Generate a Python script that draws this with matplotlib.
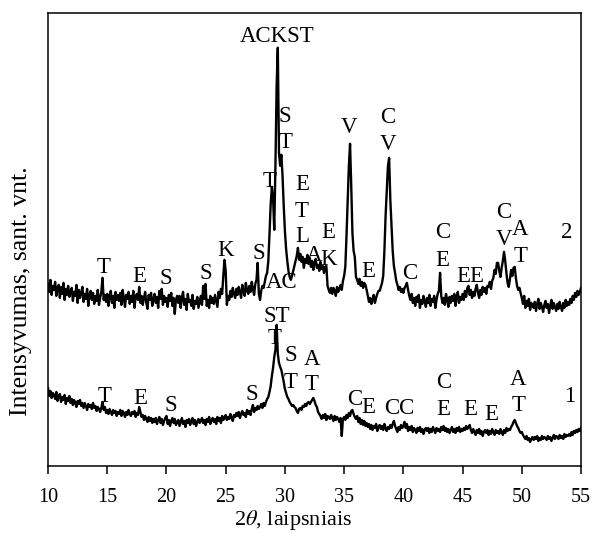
import numpy as np
import matplotlib
matplotlib.use('Agg')
import matplotlib.pyplot as plt

plt.rcParams['font.family'] = ['Liberation Serif', 'DejaVu Serif']
plt.rcParams['mathtext.fontset'] = 'stix'

# 2theta grid of the scan, degrees (step 0.1)
two_theta = np.round(np.linspace(10.0, 55.0, 451), 1)

# sample 2 (upper pattern), intensity in arbitrary units
sample2 = [
    182, 174, 186, 171, 180, 176, 184, 170, 178, 181,
    168, 179, 172, 183, 166, 177, 171, 180, 169, 175,
    178, 165, 174, 170, 181, 163, 176, 168, 173, 179,
    164, 172, 167, 177, 160, 171, 175, 166, 173, 162,
    170, 165, 176, 161, 168, 174, 188, 166, 171, 164,
    172, 160, 169, 175, 163, 170, 158, 174, 166, 171,
    165, 173, 161, 176, 168, 159, 171, 167, 174, 162,
    170, 164, 175, 158, 169, 172, 166, 179, 163, 170,
    161, 168, 174, 163, 157, 171, 166, 173, 160, 167,
    172, 163, 169, 158, 175, 167, 177, 161, 170, 164,
    168, 159, 171, 165, 173, 160, 168, 152, 166, 170,
    163, 170, 158, 168, 174, 161, 167, 156, 172, 164,
    166, 160, 171, 157, 165, 162, 169, 158, 164, 170,
    161, 180, 167, 182, 160, 166, 158, 170, 163, 168,
    162, 171, 165, 159, 174, 168, 177, 172, 190, 206,
    195, 161, 170, 166, 175, 169, 178, 172, 168, 177,
    171, 179, 174, 168, 181, 175, 170, 183, 176, 172,
    180, 174, 184, 177, 171, 182, 186, 203, 172, 166,
    175, 180, 178, 184, 190, 193, 205, 232, 262, 279,
    268, 236, 300, 380, 418, 313, 300, 311, 290, 260,
    235, 217, 205, 195, 189, 186, 190, 195, 200, 205,
    210, 218, 206, 212, 204, 209, 198, 207, 203, 211,
    202, 208, 199, 205, 196, 203, 207, 198, 201, 195,
    204, 197, 200, 193, 199, 200, 180, 176, 173, 178,
    172, 178, 175, 170, 179, 174, 177, 181, 176, 185,
    190, 199, 230, 265, 300, 322, 280, 233, 215, 209,
    189, 186, 182, 187, 180, 184, 178, 183, 181, 176,
    170, 164, 168, 162, 166, 171, 163, 168, 172, 175,
    175, 179, 183, 190, 215, 250, 275, 300, 308, 266,
    240, 215, 200, 193, 185, 181, 176, 179, 174, 177,
    173, 178, 180, 183, 176, 170, 166, 172, 163, 168,
    160, 169, 164, 171, 158, 166, 162, 170, 165, 159,
    168, 163, 171, 160, 167, 164, 170, 158, 166, 172,
    175, 193, 170, 163, 168, 161, 172, 166, 159, 169,
    163, 170, 165, 172, 160, 168, 174, 163, 169, 166,
    172, 166, 175, 169, 178, 180, 171, 176, 168, 174,
    170, 177, 181, 173, 168, 176, 171, 179, 174, 178,
    172, 180, 179, 184, 177, 185, 188, 196, 192, 203,
    203, 195, 189, 198, 205, 214, 205, 193, 183, 179,
    187, 196, 190, 198, 199, 188, 180, 176, 178, 173,
    168, 162, 170, 158, 165, 160, 167, 156, 163, 161,
    158, 164, 155, 162, 167, 157, 163, 159, 154, 161,
    165, 158, 162, 153, 160, 166, 157, 163, 159, 155,
    162, 157, 164, 159, 155, 163, 158, 166, 160, 164,
    161, 167, 163, 170, 166, 173, 169, 175, 171, 174,
    178,
]

# sample 1 (lower pattern)
sample1 = [
    78, 70, 75, 68, 73, 71, 67, 74, 65, 70,
    72, 64, 69, 66, 71, 62, 68, 65, 70, 63,
    67, 61, 66, 63, 59, 65, 62, 66, 60, 63,
    58, 63, 60, 56, 62, 59, 61, 57, 63, 58,
    60, 55, 59, 57, 54, 58, 64, 56, 59, 53,
    56, 52, 57, 54, 51, 56, 53, 55, 50, 54,
    52, 56, 50, 55, 53, 49, 54, 51, 56, 52,
    50, 54, 52, 55, 49, 53, 51, 59, 54, 49,
    51, 46, 50, 47, 44, 49, 45, 48, 43, 47,
    44, 48, 42, 46, 49, 43, 47, 41, 45, 48,
    50, 42, 46, 40, 45, 48, 43, 47, 41, 44,
    46, 40, 44, 48, 42, 45, 39, 46, 43, 47,
    41, 45, 48, 42, 46, 40, 44, 47, 43, 45,
    48, 43, 46, 41, 47, 44, 49, 42, 46, 48,
    44, 47, 42, 49, 45, 48, 43, 50, 46, 48,
    51, 46, 49, 47, 52, 48, 45, 51, 49, 53,
    50, 54, 48, 52, 55, 51, 53, 49, 56, 52,
    55, 51, 57, 61, 54, 58, 56, 60, 57, 59,
    62, 58, 63, 60, 64, 67, 69, 74, 80, 90,
    98, 109, 116, 141, 112, 103, 99, 96, 90, 84,
    77, 73, 69, 67, 64, 62, 60, 61, 59, 58,
    55, 53, 57, 58, 56, 60, 59, 62, 60, 63,
    64, 62, 64, 66, 68, 65, 61, 59, 54, 52,
    50, 47, 51, 48, 52, 46, 50, 49, 47, 51,
    48, 45, 50, 46, 49, 47, 44, 48, 30, 47,
    49, 46, 51, 48, 53, 50, 55, 56, 52, 49,
    47, 50, 44, 48, 42, 46, 41, 45, 40, 43,
    39, 42, 37, 41, 36, 40, 38, 42, 35, 39,
    41, 37, 40, 36, 42, 38, 35, 39, 37, 41,
    38, 42, 45, 40, 37, 34, 39, 36, 41, 38,
    40, 44, 38, 42, 35, 39, 36, 40, 34, 38,
    36, 33, 38, 35, 39, 34, 37, 32, 36, 38,
    35, 38, 33, 37, 34, 39, 36, 33, 38, 35,
    37, 34, 39, 36, 40, 35, 38, 34, 37, 33,
    36, 39, 34, 37, 33, 38, 35, 39, 34, 37,
    35, 38, 36, 40, 37, 39, 41, 36, 33, 37,
    34, 31, 36, 33, 37, 32, 35, 30, 34, 36,
    33, 36, 31, 35, 32, 37, 34, 31, 36, 33,
    35, 32, 37, 34, 31, 36, 33, 38, 35, 37,
    36, 39, 41, 44, 46, 43, 40, 38, 35, 33,
    34, 31, 29, 27, 30, 26, 28, 24, 27, 29,
    26, 29, 27, 30, 25, 28, 26, 30, 27, 29,
    28, 26, 30, 27, 29, 25, 28, 31, 27, 30,
    29, 27, 31, 28, 30, 27, 32, 29, 31, 30,
    32, 30, 34, 31, 35, 33, 36, 34, 37, 35,
    38,
]

# phase letters: (text, 2theta, intensity)
marks2 = [
    ('T', 14.73, 198), ('E', 17.7, 189), ('S', 19.94, 187), ('S', 23.3, 192),
    ('K', 25.0, 215), ('S', 27.8, 212), ('AC', 29.74, 183), ('T', 28.67, 284),
    ('S', 30.0, 349), ('T', 30.1, 323), ('ACKST', 29.34, 429),
    ('E', 31.43, 281), ('T', 31.43, 254), ('L', 31.45, 229), ('A', 32.47, 210),
    ('E', 33.65, 233), ('K', 33.7, 206), ('V', 35.43, 338), ('C', 38.7, 348),
    ('V', 38.7, 321), ('E', 37.0, 194), ('C', 40.57, 192), ('C', 43.33, 233),
    ('E', 43.33, 205), ('EE', 45.64, 189), ('C', 48.5, 253), ('V', 48.5, 226),
    ('A', 49.86, 236), ('T', 49.86, 209), ('2', 53.8, 233),
]
marks1 = [
    ('T', 14.8, 69), ('E', 17.77, 67), ('S', 20.36, 60), ('S', 27.2, 71),
    ('ST', 29.34, 149), ('T', 29.1, 127), ('S', 30.5, 110), ('T', 30.5, 83),
    ('A', 32.27, 106), ('T', 32.27, 81), ('C', 35.93, 66), ('E', 37.05, 58),
    ('CC', 39.65, 57), ('C', 43.4, 83), ('E', 43.4, 56), ('E', 45.64, 56),
    ('E', 47.4, 51), ('A', 49.7, 86), ('T', 49.7, 60), ('1', 54.0, 69),
]

fig = plt.figure(figsize=(5.98, 5.33), dpi=100)
ax = fig.add_axes([0.0803, 0.1257, 0.8913, 0.8505])

ax.plot(two_theta, sample2, color='black', linewidth=1.7)
ax.plot(two_theta, sample1, color='black', linewidth=1.7)

for txt, xx, yy in marks2 + marks1:
    ax.text(xx, yy, txt, fontsize=16.5, ha='center', va='center')

ax.set_xlim(10, 55)
ax.set_ylim(0, 453)
ax.set_xticks(np.arange(10, 56, 5))
ax.set_yticks([])
ax.tick_params(axis='x', direction='out', length=6, width=1.1, labelsize=14.5, pad=10)
for sp in ax.spines.values():
    sp.set_linewidth(1.1)

ax.set_xlabel(r'2$\theta$, laipsniais', fontsize=16)
ax.xaxis.set_label_coords(0.46, -0.092)
ax.set_ylabel('Intensyvumas, sant. vnt.', fontsize=18.5)
ax.yaxis.set_label_coords(-0.03, 0.386)

fig.savefig('out.png', dpi=100)
